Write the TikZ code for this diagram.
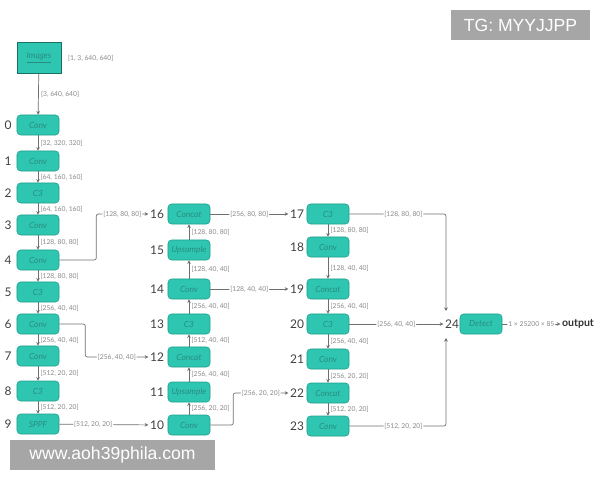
\documentclass[tikz,border=0pt]{standalone}
\usepackage{fontspec}
\setmainfont{Lato}
\newfontfamily\markfont{Liberation Sans}
\usetikzlibrary{arrows.meta}

\definecolor{boxfill}{HTML}{2EC6B1}
\definecolor{boxline}{HTML}{1FA08E}
\definecolor{boxtext}{HTML}{2A8C80}
\definecolor{linkgray}{HTML}{6E6E6E}
\definecolor{lblgray}{HTML}{8A8A8A}
\definecolor{markgray}{HTML}{A6A6A6}

\tikzset{
    layer/.style={draw=boxline, fill=boxfill, rounded corners=2.5pt,
        minimum width=1.05cm, minimum height=0.5cm, inner sep=0pt,
        text=boxtext, font=\fontsize{6}{7}\selectfont\itshape},
    idx/.style={inner sep=1pt, text=black!75,
        font=\fontsize{8.5}{9}\selectfont},
    dims/.style={fill=white, inner sep=0.6pt, text=lblgray,
        font=\fontsize{4.8}{5}\selectfont},
    flow/.style={draw=linkgray, line width=0.5pt, rounded corners=1.5pt,
        -{Stealth[length=2.6pt,width=2.6pt]}},
    wmark/.style={fill=markgray, text=white, inner sep=0pt,
        minimum height=0.75cm, font=\markfont\fontsize{12.5}{14}\selectfont},
}

\begin{document}
\begin{tikzpicture}[x=0.025cm, y=-0.025cm]
    \useasboundingbox (0,0) rectangle (600,480);

    % Input
    \node[layer, rounded corners=0pt, minimum width=1.1cm,
        minimum height=0.78cm, draw=boxline!70!black]
        (img) at (39,58) {\underline{Images}};
    \node[dims, anchor=west] (imgdim) at (67,58) {[1, 3, 640, 640]};

    % Backbone
    \node[layer] (b0) at (38,125) {Conv};
    \node[idx] (n0) at (8,125) {0};
    \node[layer] (b1) at (38,161) {Conv};
    \node[idx] (n1) at (8,161) {1};
    \node[layer] (b2) at (38,193) {C3};
    \node[idx] (n2) at (8,193) {2};
    \node[layer] (b3) at (38,225) {Conv};
    \node[idx] (n3) at (8,225) {3};
    \node[layer] (b4) at (38,260) {Conv};
    \node[idx] (n4) at (8,260) {4};
    \node[layer] (b5) at (38,292) {C3};
    \node[idx] (n5) at (8,292) {5};
    \node[layer] (b6) at (38,324) {Conv};
    \node[idx] (n6) at (8,324) {6};
    \node[layer] (b7) at (38,356) {Conv};
    \node[idx] (n7) at (8,356) {7};
    \node[layer] (b8) at (38,391) {C3};
    \node[idx] (n8) at (8,391) {8};
    \node[layer] (b9) at (38,424) {SPPF};
    \node[idx] (n9) at (8,424) {9};

    % Neck, going up
    \node[layer] (b10) at (189,425) {Conv};
    \node[idx] (n10) at (157,425) {10};
    \node[layer] (b11) at (189,392) {Upsample};
    \node[idx] (n11) at (157,392) {11};
    \node[layer] (b12) at (189,357) {Concat};
    \node[idx] (n12) at (157,357) {12};
    \node[layer] (b13) at (189,324) {C3};
    \node[idx] (n13) at (157,324) {13};
    \node[layer] (b14) at (189,289) {Conv};
    \node[idx] (n14) at (157,289) {14};
    \node[layer] (b15) at (189,250) {Upsample};
    \node[idx] (n15) at (157,250) {15};
    \node[layer] (b16) at (189,214) {Concat};
    \node[idx] (n16) at (157,214) {16};

    % Neck, going down
    \node[layer] (b17) at (328,214) {C3};
    \node[idx] (n17) at (297,214) {17};
    \node[layer] (b18) at (328,247) {Conv};
    \node[idx] (n18) at (297,247) {18};
    \node[layer] (b19) at (328,289) {Concat};
    \node[idx] (n19) at (297,289) {19};
    \node[layer] (b20) at (328,324) {C3};
    \node[idx] (n20) at (297,324) {20};
    \node[layer] (b21) at (328,359) {Conv};
    \node[idx] (n21) at (297,359) {21};
    \node[layer] (b22) at (328,393) {Concat};
    \node[idx] (n22) at (297,393) {22};
    \node[layer] (b23) at (328,426) {Conv};
    \node[idx] (n23) at (297,426) {23};

    % Head
    \node[layer] (b24) at (481,324) {Detect};
    \node[idx] (n24) at (452,324) {24};
    \node[inner sep=1pt, text=black!80,
        font=\fontsize{7.5}{8}\selectfont\bfseries]
        (out) at (578,324) {output};
    \coordinate (in24a) at (446,311);
    \coordinate (in24b) at (446,338);

    % Backbone links
    \draw[flow] (img) -- node[dims, right=1pt] {[3, 640, 640]} (b0);
    \draw[flow] (b0) -- node[dims, right=1pt] {[32, 320, 320]} (b1);
    \draw[flow] (b1) -- node[dims, right=1pt] {[64, 160, 160]} (b2);
    \draw[flow] (b2) -- node[dims, right=1pt] {[64, 160, 160]} (b3);
    \draw[flow] (b3) -- node[dims, right=1pt] {[128, 80, 80]} (b4);
    \draw[flow] (b4) -- node[dims, right=1pt] {[128, 80, 80]} (b5);
    \draw[flow] (b5) -- node[dims, right=1pt] {[256, 40, 40]} (b6);
    \draw[flow] (b6) -- node[dims, right=1pt] {[256, 40, 40]} (b7);
    \draw[flow] (b7) -- node[dims, right=1pt] {[512, 20, 20]} (b8);
    \draw[flow] (b8) -- node[dims, right=1pt] {[512, 20, 20]} (b9);

    % Skips into the neck
    \draw[flow] (b4.east) -- ++(37,0)
        |- node[dims, pos=.75] {[128, 80, 80]} (n16.west);
    \draw[flow] (b6.east) -- ++(26,0)
        |- node[dims, pos=.75] {[256, 40, 40]} (n12.west);
    \draw[flow] (b9) -- node[dims, pos=.38] {[512, 20, 20]} (n10);

    % Neck links, up
    \draw[flow] (b10) -- node[dims, right=1pt] {[256, 20, 20]} (b11);
    \draw[flow] (b11) -- node[dims, right=1pt] {[256, 40, 40]} (b12);
    \draw[flow] (b12) -- node[dims, right=1pt] {[512, 40, 40]} (b13);
    \draw[flow] (b13) -- node[dims, right=1pt] {[256, 40, 40]} (b14);
    \draw[flow] (b14) -- node[dims, right=1pt] {[128, 40, 40]} (b15);
    \draw[flow] (b15) -- node[dims, right=1pt] {[128, 80, 80]} (b16);

    % Across
    \draw[flow] (b16) -- node[dims] {[256, 80, 80]} (n17);
    \draw[flow] (b14) -- node[dims] {[128, 40, 40]} (n19);
    \draw[flow] (b10.east) -- ++(23,0)
        |- node[dims, pos=.75] {[256, 20, 20]} (n22.west);

    % Neck links, down
    \draw[flow] (b17) -- node[dims, right=1pt] {[128, 80, 80]} (b18);
    \draw[flow] (b18) -- node[dims, right=1pt] {[128, 40, 40]} (b19);
    \draw[flow] (b19) -- node[dims, right=1pt] {[256, 40, 40]} (b20);
    \draw[flow] (b20) -- node[dims, right=1pt] {[256, 40, 40]} (b21);
    \draw[flow] (b21) -- node[dims, right=1pt] {[256, 20, 20]} (b22);
    \draw[flow] (b22) -- node[dims, right=1pt] {[512, 20, 20]} (b23);

    % Into the head
    \draw[flow] (b17.east) -| node[dims, pos=.28] {[128, 80, 80]} (in24a);
    \draw[flow] (b20) -- node[dims, pos=.5] {[256, 40, 40]} (n24);
    \draw[flow] (b23.east) -| node[dims, pos=.28] {[512, 20, 20]} (in24b);
    \draw[flow] (b24) -- node[dims] {1 × 25200 × 85} (out);

    % Marks
    \node[wmark, minimum width=3.475cm] (tg) at (520.5,25) {TG: MYYJJPP};
    \node[wmark, minimum width=5.125cm] (site) at (112.5,455)
        {www.aoh39phila.com};
\end{tikzpicture}
\end{document}
